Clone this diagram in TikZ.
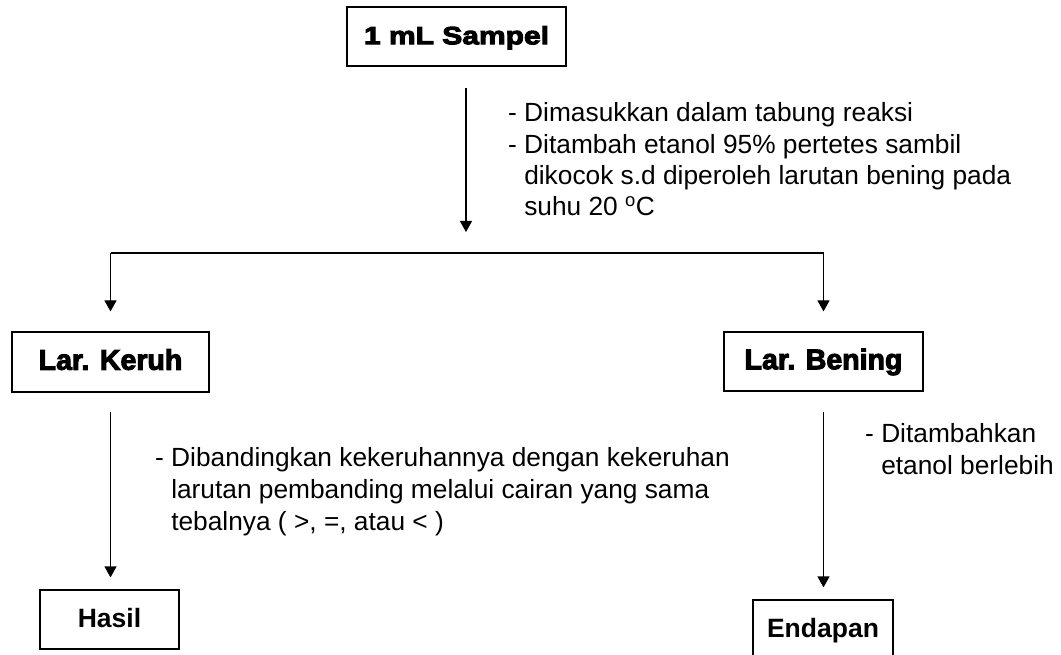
\documentclass[tikz,border=0pt]{standalone}
\usepackage{fontspec}
\setmainfont{Liberation Sans}
\newfontfamily\heavyfont{Liberation Sans}[BoldFeatures={FakeBold=3.5}]
\newfontfamily\heavywide{Liberation Sans}[BoldFeatures={FakeBold=4,FakeStretch=1.2}]
\usetikzlibrary{arrows.meta}
\begin{document}
\begin{tikzpicture}[x=1pt,y=-1pt,
  box/.style={draw, line width=1.2pt, rectangle, inner sep=0pt, align=center,
    text height=20pt, text depth=4.5pt},
  arr/.style={line width=1.2pt, -{Triangle[width=12pt,length=11pt]}},
  conn/.style={line width=1.2pt},
  note/.style={anchor=base west, inner sep=0pt, font=\fontsize{26.3}{32}\selectfont}]
\clip (0,0) rectangle (1061,655);
\useasboundingbox (0,0) rectangle (1061,655);
% boxes
\node[box, minimum width=219pt, minimum height=59pt,
  font=\heavywide\bfseries\fontsize{25}{30}\selectfont] (sampel) at (456.5,36.5) {1 mL Sampel};
\node[box, minimum width=197pt, minimum height=60pt,
  font=\heavyfont\bfseries\fontsize{28.5}{32}\selectfont] (keruh) at (110.5,362) {Lar. Keruh};
\node[box, minimum width=199pt, minimum height=59pt,
  font=\heavyfont\bfseries\fontsize{28.5}{32}\selectfont] (bening) at (823.5,361.5) {Lar. Bening};
\node[box, minimum width=139pt, minimum height=59pt,
  font=\bfseries\fontsize{26.5}{30}\selectfont] (hasil) at (109.5,619.5) {Hasil};
\node[box, minimum width=140pt, minimum height=59pt,
  font=\bfseries\fontsize{26.5}{30}\selectfont] (endapan) at (823,629.5) {Endapan};
% connectors
\coordinate (t1) at (466,88);
\coordinate (t2) at (466,232);
\draw[arr] (t1) -- (t2);
\coordinate (hl) at (110.5,253);
\coordinate (hr) at (823.5,253);
\draw[conn] (hl) -- (hr);
\draw[arr, shorten >=20pt] (hl) -- (keruh.north);
\draw[arr, shorten >=20pt] (hr) -- (bening.north);
\draw[arr, shorten <=19pt, shorten >=12pt] (keruh.south) -- (keruh.south |- hasil.north);
\draw[arr, shorten <=20pt, shorten >=12pt] (bening.south) -- (bening.south |- endapan.north);
% notes
\node[note, font=\fontsize{26.3}{31.3}\selectfont] (n1) at (508,122) {\begin{tabular}[t]{@{}l@{}}- Dimasukkan dalam tabung reaksi\\- Ditambah etanol 95\% pertetes sambil\\\hphantom{- }dikocok s.d diperoleh larutan bening pada\\\hphantom{- }suhu 20 \textsuperscript{o}C\end{tabular}};
\node[note] (n2) at (155,466) {\begin{tabular}[t]{@{}l@{}}- Dibandingkan kekeruhannya dengan kekeruhan\\\hphantom{- }larutan pembanding melalui cairan yang sama\\\hphantom{- }tebalnya ( >, =, atau < )\end{tabular}};
\node[note] (n3) at (865,442) {\begin{tabular}[t]{@{}l@{}}- Ditambahkan\\\hphantom{- }etanol berlebih\end{tabular}};
\end{tikzpicture}
\end{document}
